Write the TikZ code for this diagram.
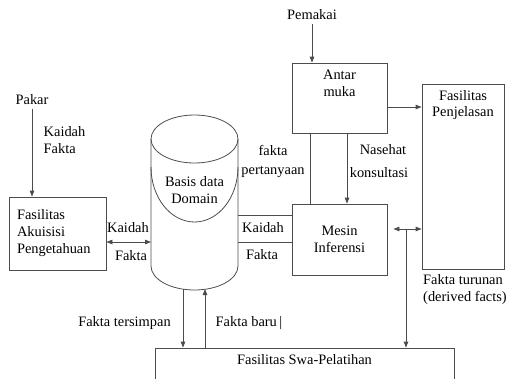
\documentclass[tikz,border=0pt]{standalone}
\usepackage{fontspec}
\setmainfont{Liberation Serif}
\usetikzlibrary{arrows.meta}

\begin{document}
\begin{tikzpicture}[x=1pt,y=-1pt,font=\fontsize{14.4}{17}\selectfont,
    color=black!70,text=black,line width=0.8pt,
    >={Triangle[length=6pt,width=4.5pt]},
    kotak/.style={draw=black!70,inner sep=0pt}]
    \useasboundingbox (0,0) rectangle (509,378);
    \draw (194.5,139) ellipse (43.5 and 24);
    \draw (151,139) -- (151,266) arc[start angle=180,end angle=0,x radius=43.5,y radius=24] -- (238,139);
    \draw (151,167) arc[start angle=180,end angle=0,x radius=43.5,y radius=55];
    \node[align=center] (basis) at (194.5,190) {Basis data\\Domain};
    \coordinate (dbL) at (151,242);
    \coordinate (dbR1) at (238,215);
    \coordinate (dbR2) at (238,242);
    \coordinate (dbB1) at (183,289);
    \coordinate (dbB2) at (205,289);
    \node[kotak,minimum width=97pt,minimum height=73pt,text width=81pt,align=left,inner xsep=8pt] (akuisisi) at (57.5,233.5) {Fasilitas\\Akuisisi\\Pengetahuan};
    \node[kotak,minimum width=95pt,minimum height=70pt] (antar) at (339.5,98) {};
    \node[align=center] (antarT) at (339.5,83) {Antar\\muka};
    \node[kotak,minimum width=82pt,minimum height=185pt] (penj) at (463,176.5) {};
    \node[align=center,font=\fontsize{14.4}{15.5}\selectfont] (penjT) at (463,105) {Fasilitas\\Penjelasan};
    \node[kotak,minimum width=95pt,minimum height=71pt,align=center] (mesin) at (339.5,239.5) {Mesin\\Inferensi};
    \node[kotak,minimum width=299pt,minimum height=50pt] (swa) at (304.5,373) {};
    \node (swaT) at (304.5,360) {Fasilitas Swa-Pelatihan};
    \node (pakar) at (32,100) {Pakar};
    \node[align=left,anchor=west] (kf) at (40,140) {Kaidah\\Fakta};
    \node (kaidahA) at (128,228) {Kaidah};
    \node (faktaA) at (131,256) {Fakta};
    \node (kaidahB) at (263,228) {Kaidah};
    \node (faktaB) at (262,255) {Fakta};
    \node (pemakai) at (312,15) {Pemakai};
    \node (fakta) at (273,150) {fakta};
    \node (tanya) at (273,172) {pertanyaan};
    \node (nasehat) at (383,150) {Nasehat};
    \node (konsul) at (379,173) {konsultasi};
    \node (turunan) at (463,280) {Fakta turunan};
    \node (derived) at (465,298) {(derived facts)};
    \node (simpan) at (124.5,323) {Fakta tersimpan};
    \node[anchor=west] (baru) at (212,323) {Fakta baru\,|};
    \draw[->] (pakar) -- (pakar |- akuisisi.north);
    \draw[<->] (dbL -| akuisisi.east) -- (dbL);
    \draw (dbR1) -- (dbR1 -| mesin.west);
    \draw (dbR2) -- (dbR2 -| mesin.west);
    \draw[->] (pemakai) -- (pemakai |- antar.north);
    \draw[{Bar[width=4pt]}->] ([yshift=-9pt]antar.east) -- ([yshift=-9pt]antar.east -| penj.west);
    \draw ([xshift=-29.5pt]antar.south) -- ([xshift=-29.5pt]antar.south |- mesin.north);
    \draw[->] ([xshift=7.5pt]antar.south) -- ([xshift=7.5pt]antar.south |- mesin.north);
    \coordinate (junc) at (406,229);
    \draw[<->] ([xshift=6pt]mesin.east |- junc) -- (junc -| penj.west);
    \draw[->] (junc) -- (junc |- swa.north);
    \draw[->] (dbB1) -- (dbB1 |- swa.north);
    \draw[->] (dbB2 |- swa.north) -- (dbB2);
\end{tikzpicture}
\end{document}
